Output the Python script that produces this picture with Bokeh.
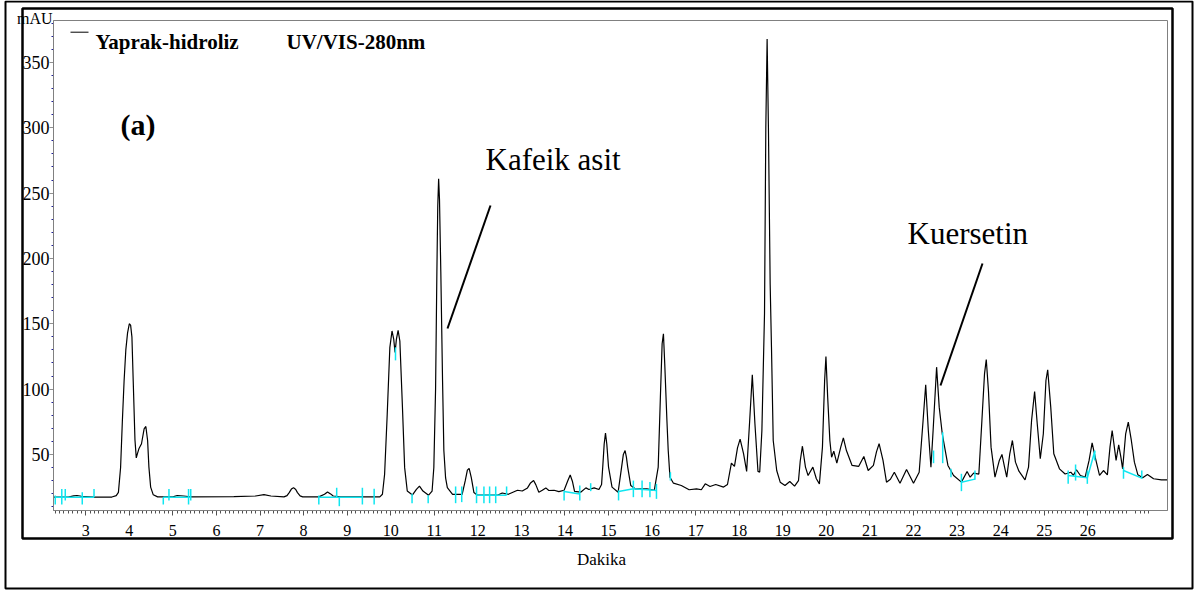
from bokeh.plotting import figure
from bokeh.models import Range1d, FixedTicker, BoxAnnotation, Label, LinearAxis
from bokeh.embed import file_html
from bokeh.resources import INLINE

# ---- chromatogram trace: retention time (min) vs absorbance (mAU)
trace = [
    (2.26, 17.4), (2.60, 17.4), (2.72, 18.3), (2.80, 18.6), (2.90, 18.0), (3.20, 17.4), (3.60, 17.4),
    (3.70, 18.5), (3.75, 21.0), (3.80, 40.0), (3.84, 75.0), (3.88, 106.0), (3.92, 130.0), (3.96, 143.0),
    (4.00, 150.0), (4.03, 149.0), (4.06, 140.0), (4.09, 106.0), (4.13, 61.0), (4.16, 47.4), (4.19, 51.0),
    (4.22, 54.3), (4.28, 58.2), (4.34, 69.6), (4.38, 71.4), (4.42, 60.7), (4.45, 40.3), (4.49, 25.0),
    (4.55, 19.1), (4.65, 17.5), (5.00, 17.5), (5.10, 18.6), (5.25, 18.2), (5.40, 17.5), (6.40, 17.7),
    (6.90, 18.2), (7.09, 19.2), (7.25, 18.2), (7.55, 17.5), (7.62, 18.5), (7.67, 20.8), (7.72, 23.5),
    (7.77, 24.6), (7.82, 23.2), (7.86, 20.8), (7.92, 18.3), (7.98, 17.5), (8.35, 17.5), (8.48, 19.5),
    (8.55, 21.3), (8.62, 19.8), (8.68, 18.2), (8.85, 17.5), (9.75, 17.5), (9.81, 19.5), (9.86, 34.8),
    (9.92, 80.7), (9.98, 131.7), (10.03, 144.5), (10.07, 138.0), (10.10, 128.0), (10.13, 138.0),
    (10.17, 145.0), (10.21, 136.8), (10.27, 85.8), (10.32, 39.9), (10.38, 22.0), (10.50, 19.0),
    (10.59, 23.3), (10.66, 25.8), (10.74, 22.0), (10.87, 18.8), (10.95, 22.0), (10.99, 40.0),
    (11.03, 100.0), (11.06, 190.0), (11.08, 240.0), (11.10, 261.0), (11.12, 245.0), (11.15, 190.0),
    (11.19, 106.6), (11.22, 53.0), (11.26, 32.0), (11.30, 24.6), (11.42, 19.5), (11.64, 19.5),
    (11.71, 29.7), (11.76, 38.0), (11.80, 39.4), (11.85, 32.3), (11.91, 20.8), (11.99, 18.8),
    (12.45, 18.8), (12.56, 20.5), (12.70, 19.5), (12.91, 22.6), (13.02, 22.0), (13.14, 24.4),
    (13.21, 28.2), (13.28, 30.0), (13.33, 26.9), (13.40, 21.1), (13.48, 22.6), (13.56, 24.4),
    (13.63, 22.4), (13.75, 22.6), (13.86, 21.6), (13.98, 22.6), (14.06, 29.5), (14.12, 34.3),
    (14.17, 29.5), (14.22, 21.8), (14.36, 21.1), (14.48, 24.4), (14.55, 23.2), (14.67, 24.4),
    (14.78, 23.2), (14.84, 27.0), (14.87, 42.0), (14.90, 58.0), (14.93, 66.3), (14.96, 58.0),
    (15.00, 40.3), (15.08, 25.0), (15.22, 21.1), (15.30, 40.3), (15.34, 50.0), (15.38, 53.0),
    (15.41, 48.0), (15.44, 40.3), (15.51, 26.2), (15.61, 23.7), (15.88, 23.7), (16.05, 22.5),
    (16.14, 40.3), (16.19, 93.8), (16.23, 134.7), (16.26, 142.3), (16.29, 119.4), (16.34, 76.0),
    (16.37, 53.0), (16.41, 32.6), (16.49, 28.0), (16.67, 26.2), (16.85, 23.0), (17.02, 23.7),
    (17.13, 23.0), (17.22, 27.5), (17.33, 25.5), (17.46, 27.0), (17.64, 25.0), (17.73, 27.0),
    (17.82, 43.3), (17.89, 40.8), (17.96, 55.0), (18.02, 61.7), (18.10, 50.5), (18.17, 37.0),
    (18.24, 76.0), (18.30, 111.0), (18.36, 73.5), (18.43, 37.0), (18.47, 36.5), (18.52, 68.3),
    (18.58, 157.7), (18.61, 300.0), (18.64, 368.0), (18.67, 300.0), (18.71, 180.0), (18.74, 132.0),
    (18.78, 60.7), (18.86, 37.7), (18.94, 28.8), (19.05, 26.2), (19.16, 29.3), (19.27, 25.7),
    (19.36, 30.0), (19.40, 45.0), (19.45, 56.3), (19.52, 40.3), (19.58, 33.9), (19.69, 40.3),
    (19.77, 31.4), (19.84, 27.5), (19.91, 55.6), (19.96, 106.6), (19.99, 125.0), (20.03, 93.8),
    (20.08, 60.7), (20.12, 47.9), (20.17, 52.5), (20.24, 43.3), (20.33, 55.6), (20.39, 62.7),
    (20.46, 53.0), (20.59, 41.6), (20.74, 40.8), (20.86, 48.4), (20.96, 37.7), (21.08, 41.6),
    (21.15, 52.0), (21.21, 58.2), (21.30, 45.4), (21.38, 28.8), (21.47, 31.0), (21.56, 36.4),
    (21.69, 28.0), (21.84, 38.5), (22.00, 28.0), (22.13, 36.4), (22.22, 76.0), (22.28, 103.3),
    (22.34, 68.3), (22.40, 40.3), (22.45, 68.3), (22.53, 116.8), (22.59, 86.2), (22.66, 65.8),
    (22.79, 41.6), (22.92, 33.9), (23.10, 28.8), (23.23, 37.0), (23.30, 32.6), (23.38, 35.7),
    (23.50, 35.0), (23.57, 76.0), (23.63, 111.7), (23.67, 122.7), (23.72, 99.0), (23.78, 55.6),
    (23.87, 32.6), (23.97, 45.4), (24.03, 50.0), (24.09, 40.3), (24.14, 32.6), (24.21, 50.5),
    (24.27, 60.7), (24.34, 44.1), (24.42, 37.2), (24.56, 30.6), (24.64, 40.3), (24.71, 76.0),
    (24.78, 98.2), (24.84, 73.5), (24.91, 46.7), (24.98, 65.8), (25.04, 106.6), (25.08, 114.8),
    (25.15, 86.2), (25.22, 50.5), (25.35, 39.0), (25.48, 35.0), (25.61, 36.4), (25.67, 34.0),
    (25.74, 38.3), (25.83, 33.9), (25.94, 32.6), (26.03, 45.4), (26.10, 58.9), (26.17, 47.9),
    (26.27, 33.9), (26.36, 37.7), (26.45, 34.4), (26.51, 55.6), (26.56, 68.3), (26.61, 55.6),
    (26.65, 45.4), (26.71, 57.4), (26.76, 47.9), (26.80, 39.0), (26.87, 65.8), (26.93, 74.7),
    (27.00, 60.7), (27.07, 44.1), (27.15, 34.4), (27.26, 32.1), (27.37, 34.7), (27.51, 31.4),
    (27.69, 30.6), (27.83, 30.6),
]
time_min = [t for t, _ in trace]
absorbance_mau = [a for _, a in trace]

# ---- integration marks (cyan): peak start/end ticks and baselines
cyan_tick_t = [2.30, 2.45, 2.53, 2.92, 3.19, 4.78, 4.91, 5.36, 5.41, 8.35, 8.76, 8.82, 9.35, 9.62,
               10.11, 10.49, 10.86, 11.49, 11.63, 11.97, 12.14, 12.27, 12.41, 12.66, 13.98, 14.34,
               14.59, 15.23, 15.57, 15.77, 15.95, 16.10, 16.42, 22.46, 22.67, 22.86, 23.10, 23.41,
               25.55, 25.72, 25.99, 26.16, 26.82, 27.24]
cyan_tick_lo = [11.7, 11.7, 14.8, 11.7, 17.3, 11.7, 14.8, 11.7, 14.8, 11.7, 17.3, 10.4, 11.7, 11.7,
                122.0, 12.7, 12.7, 12.7, 13.5, 12.7, 12.7, 12.7, 12.7, 18.8, 14.8, 14.8,
                21.9, 14.8, 17.3, 17.3, 17.3, 16.0, 30.0, 43.3, 43.3, 32.6, 21.9, 30.6,
                27.5, 30.0, 27.5, 45.4, 31.4, 31.4]
cyan_tick_hi = [18.6, 23.5, 23.5, 21.1, 23.5, 17.3, 23.5, 23.5, 23.5, 18.6, 24.5, 17.3, 24.5, 23.7,
                132.0, 19.9, 18.8, 25.5, 25.5, 25.5, 25.5, 25.5, 25.5, 25.5, 22.4, 26.2,
                28.0, 22.4, 30.0, 30.0, 29.0, 27.5, 36.4, 53.0, 67.0, 39.0, 35.2, 37.7,
                37.7, 42.3, 37.7, 53.0, 40.3, 37.7]
cyan_base_t = [[2.30, 3.19], [4.78, 5.41], [8.35, 9.35], [11.97, 12.66], [13.98, 14.34],
               [15.23, 15.57, 16.10], [23.10, 23.41], [25.55, 25.99, 26.16], [26.82, 27.24]]
cyan_base_y = [[17.3, 17.3], [17.3, 17.3], [17.3, 17.3], [18.8, 18.8], [21.6, 19.8],
               [21.6, 23.7, 22.5], [28.8, 31.1], [33.9, 32.1, 52.5], [37.7, 31.9]]

# ---- axis ticks
x_major_ticks = list(range(3, 27))
x_minor_ticks = [round(2.3 + 0.1 * i, 1) for i in range(252)
                 if abs((2.3 + 0.1 * i) - round(2.3 + 0.1 * i)) > 1e-6]
y_major_ticks = [50, 100, 150, 200, 250, 300, 350]
y_minor_ticks = [v for v in range(10, 390, 10) if v % 50 != 0]

# ---- texts
legend_name = "Yaprak-hidroliz"
legend_detector = "UV/VIS-280nm"
panel_tag = "(a)"
kafeik_label = "Kafeik asit"
kuersetin_label = "Kuersetin"
x_title = "Dakika"
y_title = "mAU"

# ---- layout geometry (pixels) of the chart area inside the page
W, H = 1198, 592
PLOT_L, PLOT_R, PLOT_T, PLOT_B = 53, 1167, 20, 510
T0, T1 = 2.26, 27.83        # time shown across the plot area
A0, A1 = 7.1, 382.1         # mAU shown across the plot area
KX = (PLOT_R - PLOT_L) / (T1 - T0)
KY = (PLOT_B - PLOT_T) / (A1 - A0)


def tx(px):
    return T0 + (px - PLOT_L) / KX


def ay(py):
    return A0 + (PLOT_B - py) / KY


SERIF = "Liberation Serif"

p = figure(width=W, height=H,
           x_range=Range1d(tx(0), tx(W)), y_range=Range1d(ay(H), ay(0)),
           x_axis_type=None, y_axis_type=None,
           output_backend="svg", toolbar_location=None,
           min_border_left=0, min_border_right=0, min_border_top=0, min_border_bottom=0)
p.background_fill_color = "white"
p.border_fill_color = "white"
p.outline_line_color = None
p.xgrid.visible = False
p.ygrid.visible = False

# x axis (pinned to the bottom of the plot area)
xa = LinearAxis(fixed_location=A0, bounds=(T0, T1),
                ticker=FixedTicker(ticks=x_major_ticks, minor_ticks=x_minor_ticks))
xa.axis_line_color = "#808080"
xa.major_tick_line_color = "#505050"
xa.minor_tick_line_color = "#505050"
xa.major_tick_out = 5
xa.major_tick_in = 0
xa.minor_tick_out = 3
xa.minor_tick_in = 0
xa.major_label_standoff = 9
xa.major_label_text_font = SERIF
xa.major_label_text_font_size = "16px"
xa.major_label_text_color = "black"
p.add_layout(xa, "below")

# y axis (pinned to the left of the plot area)
ya = LinearAxis(fixed_location=T0, bounds=(A0, A1),
                ticker=FixedTicker(ticks=y_major_ticks, minor_ticks=y_minor_ticks))
ya.axis_line_color = "#808080"
ya.major_tick_line_color = "#909090"
ya.minor_tick_line_color = "#1f1f9a"
ya.major_tick_out = 4
ya.major_tick_in = 0
ya.minor_tick_out = 2
ya.minor_tick_in = 0
ya.major_label_standoff = 0
ya.major_label_text_font = SERIF
ya.major_label_text_font_size = "18px"
ya.major_label_text_color = "black"
p.add_layout(ya, "left")

# frames: outer box, heavy inner box, plot-area border
p.add_layout(BoxAnnotation(left=tx(5), right=tx(1192), top=ay(1), bottom=ay(588),
                           fill_alpha=0, line_color="black", line_alpha=1.0, line_width=2))
p.add_layout(BoxAnnotation(left=tx(22), right=tx(1172), top=ay(8), bottom=ay(538),
                           fill_alpha=0, line_color="black", line_alpha=1.0, line_width=2.5))
p.add_layout(BoxAnnotation(left=T0, right=T1, top=A1, bottom=A0,
                           fill_alpha=0, line_color="#808080", line_alpha=1.0, line_width=1))

# trace
p.line(time_min, absorbance_mau, line_color="black", line_width=1.2)

# integration marks
p.segment(x0=cyan_tick_t, y0=cyan_tick_lo, x1=cyan_tick_t, y1=cyan_tick_hi,
          line_color="#10e6f0", line_width=1.5)
p.multi_line(xs=cyan_base_t, ys=cyan_base_y, line_color="#10e6f0", line_width=1.5)

# pointer lines and legend swatch
p.line([tx(490), tx(447)], [ay(205), ay(328)], line_color="black", line_width=2)
p.line([tx(982), tx(940)], [ay(263), ay(385)], line_color="black", line_width=2)
p.line([tx(70), tx(88)], [ay(31.7), ay(31.7)], line_color="black", line_width=1)

p.add_layout(Label(x=tx(95), y=ay(41.7), text=legend_name, text_font=SERIF, text_font_size="21px",
                   text_font_style="bold", text_baseline="alphabetic", text_color="black"))
p.add_layout(Label(x=tx(286), y=ay(41.7), text=legend_detector, text_font=SERIF, text_font_size="21px",
                   text_font_style="bold", text_baseline="alphabetic", text_color="black"))
p.add_layout(Label(x=tx(120), y=ay(124), text=panel_tag, text_font=SERIF, text_font_size="30px",
                   text_font_style="bold", text_baseline="alphabetic", text_color="black"))
p.add_layout(Label(x=tx(485), y=ay(159), text=kafeik_label, text_font=SERIF,
                   text_font_size="31px", text_baseline="alphabetic", text_color="black"))
p.add_layout(Label(x=tx(907), y=ay(233), text=kuersetin_label, text_font=SERIF,
                   text_font_size="31px", text_baseline="alphabetic", text_color="black"))
p.add_layout(Label(x=tx(52), y=ay(18), text=y_title, text_font=SERIF,
                   text_font_size="16px", text_align="right", text_baseline="alphabetic",
                   text_color="black"))
p.add_layout(Label(x=tx(601), y=ay(559), text=x_title, text_font=SERIF,
                   text_font_size="17px", text_align="center", text_baseline="alphabetic",
                   text_color="black"))

open("out.html", "w").write(file_html(p, INLINE))
